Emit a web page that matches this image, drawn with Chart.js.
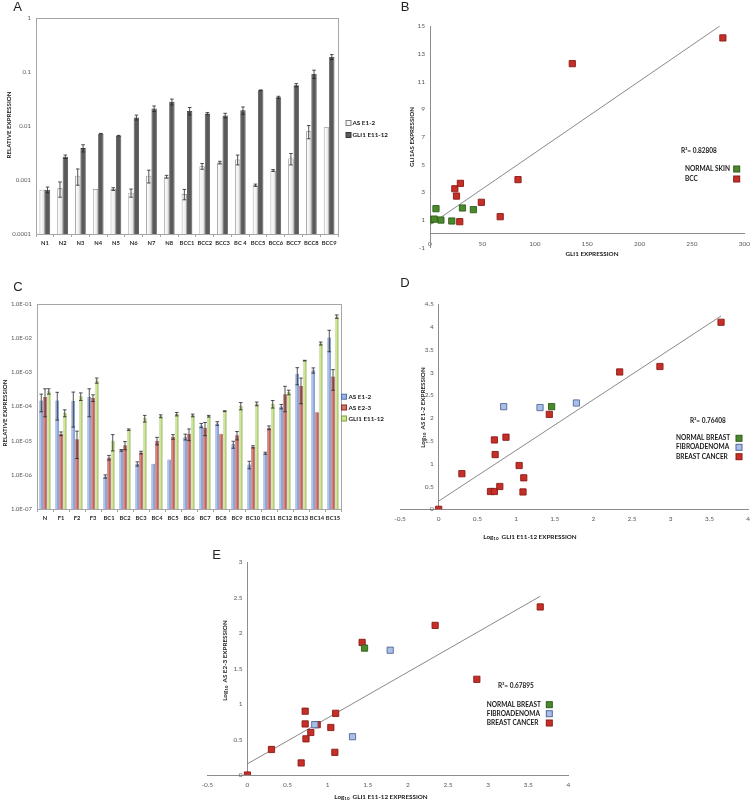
<!DOCTYPE html>
<html>
<head>
<meta charset="utf-8">
<script src="https://cdn.jsdelivr.net/npm/chart.js@4.4.1/dist/chart.umd.min.js"></script>
<style>
    html, body { margin: 0; padding: 0; background: #fff; }
    body { width: 756px; height: 802px; position: relative; overflow: hidden; }
    canvas { position: absolute; }
</style>
</head>
<body>
<canvas id="chartA" width="400" height="280" style="left:0;top:0"></canvas>
<canvas id="chartC" width="400" height="262" style="left:0;top:280px"></canvas>
<canvas id="chartB" width="376" height="280" style="left:380px;top:0"></canvas>
<canvas id="chartD" width="376" height="272" style="left:380px;top:270px"></canvas>
<canvas id="chartE" width="450" height="262" style="left:150px;top:540px"></canvas>
<script>
// ---------- panel A : skin, relative expression (log) ----------
const categoriesA = ["N1", "N2", "N3", "N4", "N5", "N6", "N7", "N8", "BCC1", "BCC2", "BCC3", "BC 4", "BCC5", "BCC6", "BCC7", "BCC8", "BCC9"];
const seriesNamesA = ["AS E1-2", "GLI1 E11-12"];
const asE12A = [0.00066, 0.0007, 0.0012, 0.00068, 0.00068, 0.00058, 0.0012, 0.00115, 0.00055, 0.0018, 0.0021, 0.0024, 0.0008, 0.0015, 0.0025, 0.008, 0.0095];
const asE12ErrA = [0, 0.00022, 0.0004, 0, 0.00004, 0.0001, 0.00032, 0.00007, 0.00012, 0.00022, 0.00012, 0.0005, 0.00004, 0.00006, 0.0006, 0.0022, 0];
const gli1A = [0.00066, 0.0027, 0.0039, 0.0072, 0.0066, 0.0144, 0.021, 0.028, 0.019, 0.017, 0.0157, 0.0195, 0.046, 0.034, 0.057, 0.092, 0.19];
const gli1ErrA = [0.00008, 0.0002, 0.0006, 0.0001, 0.0001, 0.0015, 0.0025, 0.0035, 0.003, 0.0008, 0.0015, 0.003, 0.0005, 0.0015, 0.004, 0.016, 0.02];
const yTicksA = [0.0001, 0.001, 0.01, 0.1, 1];

// ---------- panel C : breast, relative expression (log) ----------
const categoriesC = ["N", "F1", "F2", "F3", "BC1", "BC2", "BC3", "BC4", "BC5", "BC6", "BC7", "BC8", "BC9", "BC10", "BC11", "BC12", "BC13", "BC14", "BC15"];
const seriesNamesC = ["AS E1-2", "AS E2-3", "GLI1 E11-12"];
const asE12C = [1.5e-4, 1.5e-4, 1.45e-4, 1.9e-4, 9e-7, 5.2e-6, 2.1e-6, 2.1e-6, 2.8e-6, 1.3e-5, 2.8e-5, 3.2e-5, 7.8e-6, 2e-6, 4.3e-6, 1e-4, 9e-4, 1.15e-3, 1.05e-2];
const asE12ErrC = [8e-5, 1.1e-4, 1.2e-4, 1.4e-4, 1e-7, 3e-7, 3e-7, 0, 0, 2.5e-6, 4e-6, 4e-6, 1.8e-6, 5e-7, 3e-7, 1.5e-5, 4.7e-4, 2e-4, 6.5e-3];
const asE23C = [1.9e-4, 1.6e-5, 1.1e-5, 1.8e-4, 3.2e-6, 7.4e-6, 4.5e-6, 1e-5, 1.3e-5, 1.6e-5, 2.4e-5, 1.6e-5, 1.45e-5, 6.6e-6, 2.4e-5, 2.3e-4, 4e-4, 6.8e-5, 7.5e-4];
const asE23ErrC = [1.4e-4, 2e-6, 8e-6, 4e-5, 5e-7, 2e-6, 4e-7, 2.5e-6, 2e-6, 6e-6, 1e-5, 0, 4e-6, 5e-7, 3e-6, 1.6e-4, 2.8e-4, 0, 4.5e-4];
const gli1C = [2.8e-4, 6.5e-5, 2e-4, 5.8e-4, 1e-5, 2.1e-5, 4.5e-5, 5.2e-5, 6e-5, 5.5e-5, 5.2e-5, 7.3e-5, 1.05e-4, 1.2e-4, 1.2e-4, 2.6e-4, 2.2e-3, 7e-3, 4.3e-2];
const gli1ErrC = [5e-5, 1.5e-5, 5e-5, 1e-4, 5e-6, 1e-6, 1e-5, 5e-6, 7e-6, 5e-6, 3e-6, 2e-6, 2.5e-5, 1.5e-5, 3e-5, 4e-5, 5e-5, 7e-4, 5e-3];
const yTickValuesC = [1e-7, 1e-6, 1e-5, 1e-4, 1e-3, 1e-2, 1e-1];
const yTickLabelsC = ["1.0E-07", "1.0E-06", "1.0E-05", "1.0E-04", "1.0E-03", "1.0E-02", "1.0E-01"];

// ---------- panel B : GLI1 vs GLI1AS ----------
const skinGroups = ["NORMAL SKIN", "BCC"];
const normalSkinGli1 = [0.6, 4, 5.7, 10.4, 20.8, 31, 41.4];
const normalSkinAs = [1.02, 1.07, 1.82, 1.0, 0.93, 1.87, 1.75];
const bccGli1 = [23.7, 25.3, 29, 28.4, 49, 67, 84, 135.8, 279.5];
const bccAs = [3.26, 2.73, 3.65, 0.88, 2.28, 1.24, 3.92, 12.3, 14.16];

// ---------- panels D & E : log10 values, breast samples ----------
const breastGroups = ["NORMAL BREAST", "FIBROADENOMA", "BREAST CANCER"];
const normalBreastGli1 = [1.46];
const normalBreastAsE12 = [2.25];
const normalBreastAsE23 = [1.79];
const fibroGli1 = [0.84, 1.31, 1.78];
const fibroAsE12 = [2.25, 2.23, 2.33];
const fibroAsE23 = [0.71, 0.54, 1.76];
const cancerGli1 = [0, 0.30, 0.67, 0.72, 0.72, 0.73, 0.79, 0.87, 1.04, 1.10, 1.09, 1.43, 2.34, 2.86, 3.65];
const cancerAsE12 = [0, 0.78, 0.39, 0.39, 1.52, 1.20, 0.50, 1.58, 0.96, 0.69, 0.38, 2.08, 3.01, 3.13, 4.10];
const cancerAsE23 = [0, 0.36, 0.17, 0.90, 0.72, 0.51, 0.60, 0.71, 0.67, 0.87, 0.32, 1.87, 2.11, 1.35, 2.37];

const FONT = 'Lato, "Liberation Sans", sans-serif';
const TICK_COLOR = "#595959";
const AXIS_COLOR = "#8c8c8c";
const GREEN = ["#4a8a2c", "#2f5c1b"];
const RED = ["#c62f28", "#8a1b16"];
const LIGHT_BLUE = ["#a9bfe6", "#52679d"];

// horizontal gradient across each bar (Excel style shading)
function barGradient(stops, nSeries, catPct) {
    return function (ctx) {
        const chart = ctx.chart;
        const xs = chart.scales.x;
        if (ctx.type !== "data" || !xs || !chart.chartArea) return stops[1];
        const catW = xs.width / chart.data.labels.length;
        const barW = catW * catPct / nSeries;
        const left = xs.getPixelForValue(ctx.dataIndex) - catW * catPct / 2 + ctx.datasetIndex * barW;
        const g = chart.ctx.createLinearGradient(left, 0, left + barW, 0);
        stops.forEach((c, k) => g.addColorStop(k / (stops.length - 1), c));
        return g;
    };
}

const errorBars = {
    id: "errorBars",
    afterDatasetsDraw(chart) {
        const { ctx, chartArea } = chart;
        const ys = chart.scales.y;
        chart.data.datasets.forEach((ds, di) => {
            if (!ds.errors) return;
            chart.getDatasetMeta(di).data.forEach((bar, i) => {
                const err = ds.errors[i];
                if (!err) return;
                const v = ds.data[i];
                const top = ys.getPixelForValue(v + err);
                const low = v - err > ys.min ? ys.getPixelForValue(v - err) : chartArea.bottom;
                const cap = 1.8;
                ctx.save();
                ctx.strokeStyle = "#262626";
                ctx.lineWidth = 0.8;
                ctx.beginPath();
                ctx.moveTo(bar.x, top); ctx.lineTo(bar.x, low);
                ctx.moveTo(bar.x - cap, top); ctx.lineTo(bar.x + cap, top);
                ctx.moveTo(bar.x - cap, low); ctx.lineTo(bar.x + cap, low);
                ctx.stroke();
                ctx.restore();
            });
        });
    }
};

const frame = {
    id: "frame",
    afterDraw(chart) {
        const a = chart.chartArea;
        const ctx = chart.ctx;
        ctx.save();
        ctx.strokeStyle = "#a6a6a6";
        ctx.lineWidth = 1;
        ctx.strokeRect(Math.round(a.left) + 0.5, Math.round(a.top) + 0.5, Math.round(a.right - a.left), Math.round(a.bottom - a.top));
        ctx.restore();
    }
};

// letters, axis titles, legends drawn as plain text
function decor(items) {
    return {
        id: "decor",
        afterDraw(chart) {
            const ctx = chart.ctx;
            items.forEach(it => {
                ctx.save();
                ctx.translate(it.x, it.y);
                if (it.rot) ctx.rotate(it.rot);
                if (it.sq) {
                    const s = it.size || 6;
                    ctx.fillStyle = it.sq[0];
                    ctx.strokeStyle = it.sq[1];
                    ctx.lineWidth = 1;
                    ctx.fillRect(-s / 2, -s / 2, s, s);
                    ctx.strokeRect(-s / 2, -s / 2, s, s);
                } else {
                    const segs = typeof it.t === "string" ? [{ t: it.t }] : it.t;
                    const fontOf = sg => (it.bold ? "bold " : "") + (sg.s || it.size || 6.5) + "px " + (it.family || FONT);
                    let w = 0;
                    segs.forEach(sg => { ctx.font = fontOf(sg); w += ctx.measureText(sg.t).width; });
                    let x = it.align === "left" ? 0 : -w / 2;
                    ctx.fillStyle = it.color || "#1a1a1a";
                    ctx.textBaseline = "middle";
                    ctx.textAlign = "left";
                    segs.forEach(sg => {
                        ctx.font = fontOf(sg);
                        ctx.fillText(sg.t, x, sg.dy || 0);
                        x += ctx.measureText(sg.t).width;
                    });
                }
                ctx.restore();
            });
        }
    };
}

const letter = (t, x, y) => ({ t, x, y, size: 13, family: '"Liberation Sans", Arial, sans-serif', color: "#222" });
const vtitle = (t, x, y) => ({ t, x, y, rot: -Math.PI / 2, bold: true, size: 6.2 });
const log10 = rest => [{ t: "Log" }, { t: "10", s: 4.5, dy: 2 }, { t: "  " + rest }];

function tickFont(bold, size) {
    return { family: FONT, size: size || 6.5, weight: bold ? "bold" : "normal" };
}

function zip(xs, ys) {
    return xs.map((x, i) => ({ x, y: ys[i] }));
}

function trend(xs, ys) {
    const n = xs.length;
    const mx = xs.reduce((a, b) => a + b, 0) / n;
    const my = ys.reduce((a, b) => a + b, 0) / n;
    let sxy = 0, sxx = 0;
    xs.forEach((x, i) => { sxy += (x - mx) * (ys[i] - my); sxx += (x - mx) * (x - mx); });
    const b = sxy / sxx;
    const a = my - b * mx;
    const lo = Math.min(...xs), hi = Math.max(...xs);
    return [{ x: lo, y: a + b * lo }, { x: hi, y: a + b * hi }];
}

// ---------- bar charts ----------
function logBarChart(id, cfg) {
    return new Chart(document.getElementById(id), {
        type: "bar",
        data: { labels: cfg.labels, datasets: cfg.datasets },
        options: {
            responsive: false,
            animation: false,
            layout: { padding: cfg.padding },
            datasets: { bar: { categoryPercentage: cfg.catPct, barPercentage: 1 } },
            plugins: { legend: { display: false }, tooltip: { enabled: false } },
            scales: {
                x: {
                    grid: { display: true, drawOnChartArea: false, drawTicks: true, tickLength: 3, color: "#a6a6a6" },
                    border: { color: "#a6a6a6" },
                    ticks: { font: tickFont(true, 5.8), color: "#262626", padding: 3, autoSkip: false, maxRotation: 0 },
                    afterFit: s => { s.height = cfg.xHeight; }
                },
                y: {
                    type: "logarithmic",
                    min: cfg.yTicks[0],
                    max: cfg.yTicks[cfg.yTicks.length - 1],
                    grid: { display: false, drawTicks: false },
                    border: { color: "#a6a6a6" },
                    afterBuildTicks: s => { s.ticks = cfg.yTicks.map(v => ({ value: v })); },
                    ticks: { font: tickFont(false, 6), color: TICK_COLOR, padding: 5, callback: cfg.tickLabel },
                    afterFit: s => { s.width = cfg.yWidth; }
                }
            }
        },
        plugins: [errorBars, frame, decor(cfg.decor)]
    });
}

logBarChart("chartA", {
    labels: categoriesA,
    catPct: 0.6,
    padding: { left: 0, top: 18, right: 62, bottom: 0 },
    xHeight: 46,
    yWidth: 36,
    yTicks: yTicksA,
    tickLabel: v => String(v),
    datasets: [
        { label: seriesNamesA[0], data: asE12A, errors: asE12ErrA, backgroundColor: barGradient(["#ffffff", "#f4f4f4", "#d6d6d6"], 2, 0.6), borderColor: "#7f7f7f", borderWidth: 0.8 },
        { label: seriesNamesA[1], data: gli1A, errors: gli1ErrA, backgroundColor: "#5a5a5a", borderColor: "#3a3a3a", borderWidth: 0.8 }
    ],
    decor: [
        letter("A", 17.5, 7),
        vtitle("RELATIVE EXPRESSION", 9.3, 125),
        { sq: ["#f6f6f6", "#7f7f7f"], size: 5, x: 348.5, y: 123 },
        { sq: ["#5a5a5a", "#3a3a3a"], size: 5, x: 348.5, y: 135 },
        { t: seriesNamesA[0], x: 352.5, y: 123, align: "left", bold: true, size: 6.3 },
        { t: seriesNamesA[1], x: 352.5, y: 135, align: "left", bold: true, size: 6.3 }
    ]
});

logBarChart("chartC", {
    labels: categoriesC,
    catPct: 0.7,
    padding: { left: 0, top: 24, right: 59, bottom: 0 },
    xHeight: 33,
    yWidth: 37,
    yTicks: yTickValuesC,
    tickLabel: (v, i) => yTickLabelsC[i],
    datasets: [
        { label: seriesNamesC[0], data: asE12C, errors: asE12ErrC, backgroundColor: barGradient(["#d0dbf2", "#98b1e2", "#5d7cc0"], 3, 0.7), borderColor: "#5070b0", borderWidth: 0.6 },
        { label: seriesNamesC[1], data: asE23C, errors: asE23ErrC, backgroundColor: barGradient(["#edb7b5", "#d0716d", "#a43935"], 3, 0.7), borderColor: "#8f2e2b", borderWidth: 0.6 },
        { label: seriesNamesC[2], data: gli1C, errors: gli1ErrC, backgroundColor: barGradient(["#f1f8dc", "#cbe394", "#92b34c"], 3, 0.7), borderColor: "#7f9f3d", borderWidth: 0.6 }
    ],
    decor: [
        letter("C", 18, 7),
        vtitle("RELATIVE EXPRESSION", 5, 133),
        { sq: ["#98b1e2", "#5070b0"], size: 5, x: 344, y: 116.7 },
        { sq: ["#d0716d", "#8f2e2b"], size: 5, x: 344, y: 127.5 },
        { sq: ["#cbe394", "#7f9f3d"], size: 5, x: 344, y: 138.5 },
        { t: seriesNamesC[0], x: 348.5, y: 116.7, align: "left", bold: true, size: 6.3 },
        { t: seriesNamesC[1], x: 348.5, y: 127.5, align: "left", bold: true, size: 6.3 },
        { t: seriesNamesC[2], x: 348.5, y: 138.5, align: "left", bold: true, size: 6.3 }
    ]
});

// ---------- scatter charts ----------
function scatterChart(id, cfg) {
    const datasets = cfg.groups.map(g => ({
        label: g.label,
        data: zip(g.xs, g.ys),
        pointStyle: "rect",
        pointRadius: 4.4,
        backgroundColor: g.color[0],
        borderColor: g.color[1],
        borderWidth: 0.9
    }));
    const allX = [].concat(...cfg.groups.map(g => g.xs));
    const allY = [].concat(...cfg.groups.map(g => g.ys));
    datasets.push({
        label: "trend",
        data: trend(allX, allY),
        showLine: true,
        pointRadius: 0,
        borderColor: "#6b6b6b",
        borderWidth: 0.8
    });
    const tickText = v => String(Math.round(v * 100) / 100);
    return new Chart(document.getElementById(id), {
        type: "scatter",
        data: { datasets },
        options: {
            responsive: false,
            animation: false,
            layout: { padding: cfg.padding },
            plugins: { legend: { display: false }, tooltip: { enabled: false } },
            scales: {
                x: {
                    type: "linear", min: cfg.x[0], max: cfg.x[1], position: { y: cfg.y[0] < 0 ? 0 : cfg.y[0] },
                    grid: { display: false, drawTicks: false },
                    border: { color: AXIS_COLOR },
                    ticks: { stepSize: cfg.x[2], font: tickFont(false), color: TICK_COLOR, padding: 6, callback: tickText },
                    afterFit: s => { s.height = 0; }
                },
                y: {
                    type: "linear", min: cfg.y[0], max: cfg.y[1], position: { x: 0 },
                    grid: { display: false, drawTicks: false },
                    border: { color: AXIS_COLOR },
                    // labels of a centred axis sit flush on it, so pad them on the right
                    ticks: { stepSize: cfg.y[2], font: tickFont(false), color: TICK_COLOR, callback: v => tickText(v) + "\u2003" },
                    afterFit: s => { s.width = 0; }
                }
            }
        },
        plugins: [decor(cfg.decor)]
    });
}

scatterChart("chartB", {
    x: [0, 300, 50],
    y: [-1, 15, 2],
    padding: { left: 50, top: 26.3, right: 9.3, bottom: 32.3 },
    groups: [
        { label: skinGroups[0], xs: normalSkinGli1, ys: normalSkinAs, color: GREEN },
        { label: skinGroups[1], xs: bccGli1, ys: bccAs, color: RED }
    ],
    decor: [
        letter("B", 25, 7),
        vtitle("GLI1AS EXPRESSION", 32.3, 137),
        { t: "GLI1 EXPRESSION", x: 212, y: 254, bold: true, size: 6.3 },
        { t: "R\u00b2= 0.82808", x: 301, y: 151, align: "left", bold: true, size: 6.5 },
        { t: skinGroups[0], x: 305, y: 169, align: "left", bold: true, size: 6.5 },
        { t: skinGroups[1], x: 305, y: 179, align: "left", bold: true, size: 6.5 },
        { sq: GREEN, size: 6, x: 356.7, y: 169 },
        { sq: RED, size: 6, x: 356.7, y: 179 }
    ]
});

function breastDecor(name, yTitle, pos) {
    return [
        letter(name, pos.letter[0], pos.letter[1]),
        { t: log10(yTitle), x: pos.yt[0], y: pos.yt[1], rot: -Math.PI / 2, bold: true, size: 6.3 },
        { t: log10("GLI1 E11-12 EXPRESSION"), x: pos.xt[0], y: pos.xt[1], bold: true, size: 6.3 },
        { t: pos.r2, x: pos.r2x, y: pos.r2y, align: "left", bold: true, size: 6.5 },
        { t: breastGroups[0], x: pos.lx, y: pos.ly[0], align: "left", bold: true, size: 6.5 },
        { t: breastGroups[1], x: pos.lx, y: pos.ly[1], align: "left", bold: true, size: 6.5 },
        { t: breastGroups[2], x: pos.lx, y: pos.ly[2], align: "left", bold: true, size: 6.5 },
        { sq: GREEN, size: 6, x: pos.sx, y: pos.ly[0] },
        { sq: LIGHT_BLUE, size: 6, x: pos.sx, y: pos.ly[1] },
        { sq: RED, size: 6, x: pos.sx, y: pos.ly[2] }
    ];
}

scatterChart("chartD", {
    x: [-0.5, 4, 0.5],
    y: [0, 4.5, 0.5],
    padding: { left: 20, top: 34, right: 3, bottom: 32.7 },
    groups: [
        { label: breastGroups[0], xs: normalBreastGli1, ys: normalBreastAsE12, color: GREEN },
        { label: breastGroups[1], xs: fibroGli1, ys: fibroAsE12, color: LIGHT_BLUE },
        { label: breastGroups[2], xs: cancerGli1, ys: cancerAsE12, color: RED }
    ],
    decor: breastDecor("D", "AS E1-2 EXPRESSION", {
        letter: [25, 13], yt: [42.7, 137.5], xt: [150, 267],
        r2: "R\u00b2= 0.76408", r2x: 310, r2y: 150.7,
        lx: 296, ly: [168.3, 177.3, 186.7], sx: 359
    })
});

scatterChart("chartE", {
    x: [-0.5, 4, 0.5],
    y: [0, 3, 0.5],
    padding: { left: 57.3, top: 22.3, right: 31.7, bottom: 27 },
    groups: [
        { label: breastGroups[0], xs: normalBreastGli1, ys: normalBreastAsE23, color: GREEN },
        { label: breastGroups[1], xs: fibroGli1, ys: fibroAsE23, color: LIGHT_BLUE },
        { label: breastGroups[2], xs: cancerGli1, ys: cancerAsE23, color: RED }
    ],
    decor: breastDecor("E", "AS E2-3 EXPRESSION", {
        letter: [66.7, 15], yt: [75, 120.5], xt: [231, 256.7],
        r2: "R\u00b2= 0.67895", r2x: 348, r2y: 145.7,
        lx: 336.7, ly: [164.7, 173.7, 183], sx: 399.3
    })
});
</script>
</body>
</html>
